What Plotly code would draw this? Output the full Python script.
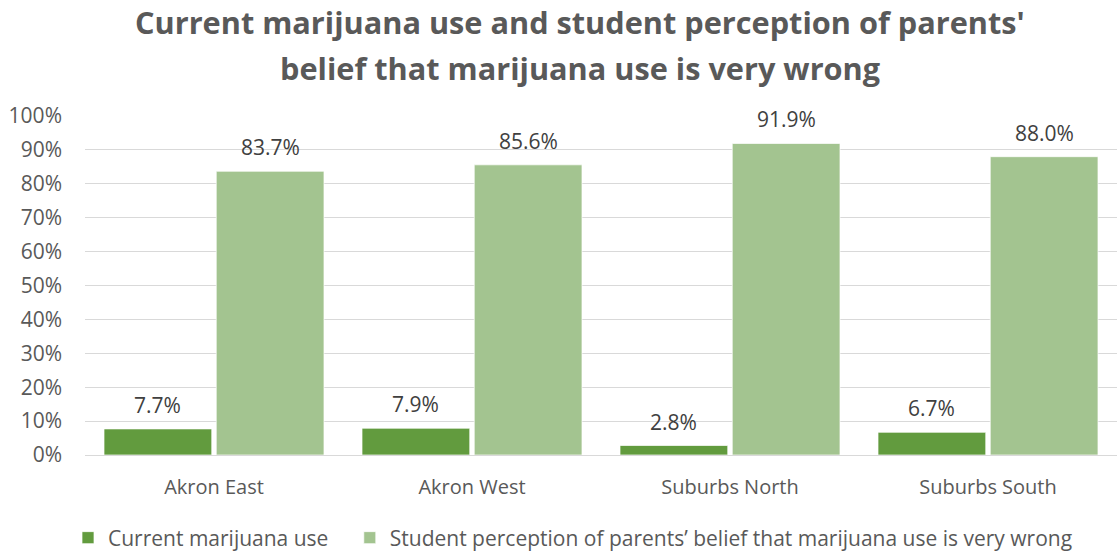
import plotly.graph_objects as go

categories = ["Akron East", "Akron West", "Suburbs North", "Suburbs South"]
current_use = [0.077, 0.079, 0.028, 0.067]
parent_belief = [0.837, 0.856, 0.919, 0.880]
series_names = ["Current marijuana use",
                "Student perception of parents\u2019 belief that marijuana use is very wrong"]
title_lines = ["Current marijuana use and student perception of parents'",
               "belief that marijuana use is very wrong"]
y_ticks = [i / 10 for i in range(11)]

FONT = "Open Sans, Segoe UI, sans-serif"
W, H = 1117, 552
ML, MR, MT, MB = 85, 0, 116, 97
PW, PH = W - ML - MR, H - MT - MB
BARGAP, GROUPGAP = 0.13, 0.04
colors = ["#629B3E", "#A3C490"]

fig = go.Figure()
for i, (name, vals, col) in enumerate(zip(series_names, [current_use, parent_belief], colors)):
    # small trailing gap after first legend entry (Excel legend spacing)
    shown = name + ("\u00a0" * 3 if i == 0 else "")
    fig.add_trace(go.Bar(
        x=categories, y=vals, name=shown,
        marker=dict(color=col, line=dict(color="rgba(255,255,255,0.7)", width=1)),
        hoverinfo="x+y",
    ))

# data labels placed above each bar (Excel-style offset)
cat_px = PW / len(categories)
slot = cat_px * (1 - BARGAP) / 2
shifts = [-slot / 2, slot / 2]
for vals, sh in zip([current_use, parent_belief], shifts):
    for c, v in zip(categories, vals):
        fig.add_annotation(x=c, y=v, xref="x", yref="y", text=f"{v*100:.1f}%",
                           showarrow=False, xshift=sh, yshift=24, yanchor="middle",
                           font=dict(family=FONT, size=21, color="#404040"))

# chart title (two lines, Excel line spacing)
for line, ypx in zip(title_lines, [22, 68]):
    fig.add_annotation(x=(580 - ML) / PW, xref="paper", y=1 + (MT - ypx) / PH, yref="paper",
                       xanchor="center", yanchor="middle", showarrow=False,
                       text=line,
                       font=dict(family=FONT, size=30.7, color="#595959", weight="bold"))

fig.update_layout(
    width=W, height=H,
    margin=dict(l=ML, r=MR, t=MT, b=MB, autoexpand=False),
    paper_bgcolor="white", plot_bgcolor="white",
    barmode="group", bargap=BARGAP, bargroupgap=GROUPGAP,
    legend=dict(orientation="h", x=-17 / PW, xanchor="left",
                y=(455 - 538) / PH, yanchor="middle",
                font=dict(family=FONT, size=21, color="#595959"),
                itemwidth=30, traceorder="normal"),
    showlegend=True,
)
fig.update_yaxes(range=[0, 1], tickvals=y_ticks,
                 tickformat=".0%", showgrid=True, gridcolor="#D9D9D9", gridwidth=1,
                 zeroline=True, zerolinecolor="#D9D9D9", zerolinewidth=1,
                 tickfont=dict(family=FONT, size=21, color="#595959"),
                 ticklabelstandoff=22, fixedrange=True)
fig.update_xaxes(showline=True, linecolor="#D9D9D9", showgrid=False,
                 tickfont=dict(family=FONT, size=20, color="#595959"),
                 ticklabelstandoff=14)

fig.write_html("out.html", config={"displayModeBar": False},
               post_script="document.body.style.margin='0';document.body.style.padding='0';")
